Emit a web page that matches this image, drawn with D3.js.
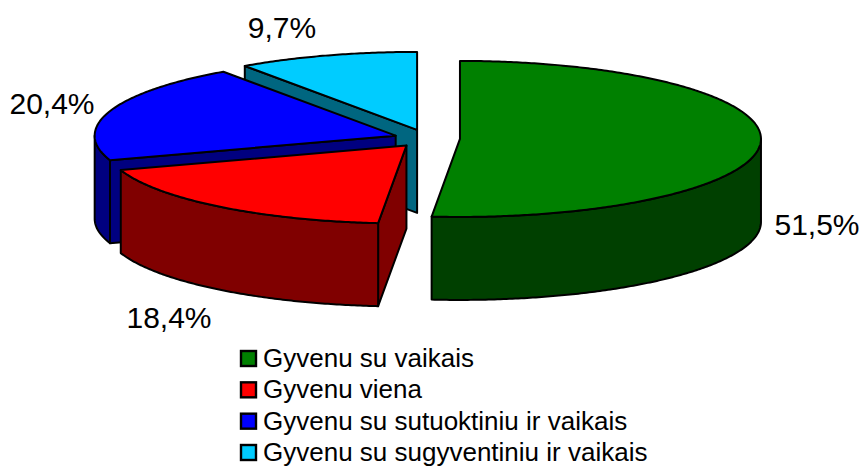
<!DOCTYPE html>
<html><head><meta charset="utf-8">
<script src="https://cdn.jsdelivr.net/npm/d3@7/dist/d3.min.js"></script>
<style>html,body{margin:0;padding:0;background:#fff}svg{display:block}text{font-family:"Liberation Sans",Arial,sans-serif;fill:#000}</style>
</head><body><svg id="c" width="861" height="466"></svg>
<script>
const categories = ["Gyvenu su vaikais","Gyvenu viena","Gyvenu su sutuoktiniu ir vaikais","Gyvenu su sugyventiniu ir vaikais"];
const values = [51.5,18.4,20.4,9.7];
const labels = ["51,5%","18,4%","20,4%","9,7%"];
const topColors = ["#008000","#ff0000","#0000ff","#00ccff"];
const sideColors = ["#004000","#800000","#000080","#006680"];
const labelPos = [[817,224.5],[169,318],[52,103.5],[282,28]];

const W=861,H=466, cx=427, cy=138.5, rx=301, ry=78, depth=83, explode=33, explodeY=9;
const svg=d3.select("#c");
const sx=d3.scaleLinear().domain([-1,1]).range([-rx,rx]);
const sy=d3.scaleLinear().domain([-1,1]).range([-ry,ry]);
const line=d3.line();
const pie=d3.pie().sort(null).startAngle(0).endAngle(2*Math.PI).value(d=>d);
const arcs=pie(values);
const pt=(a)=>[sx(Math.sin(a)),sy(-Math.cos(a))];
function arcPts(a0,a1,ox,oy,dz){
  const n=Math.max(2,Math.ceil((a1-a0)/0.01));
  return d3.range(n+1).map(i=>{const a=a0+(a1-a0)*i/n,p=pt(a);return [ox+p[0],oy+p[1]+dz];});
}
const order=[3,2,1,0];
order.forEach(i=>{
  const d=arcs[i],mid=(d.startAngle+d.endAngle)/2;
  const ox=cx+explode*Math.sin(mid), oy=cy-explodeY*Math.cos(mid);
  const g=svg.append("g");
  const style=(s,f)=>s.attr("fill",f).attr("stroke","#000").attr("stroke-width",2).attr("stroke-linejoin","round");
  // start face
  if(Math.sin(d.startAngle)<-1e-6){
    const p=pt(d.startAngle);
    style(g.append("path").attr("d",line([[ox,oy],[ox+p[0],oy+p[1]],[ox+p[0],oy+p[1]+depth],[ox,oy+depth]])+"Z"),sideColors[i]);
  }
  // outer wall (front half of the rim)
  const w0=Math.max(d.startAngle,Math.PI/2), w1=Math.min(d.endAngle,3*Math.PI/2);
  if(w1>w0){
    const upper=arcPts(w0,w1,ox,oy,0), lower=arcPts(w0,w1,ox,oy,depth).reverse();
    style(g.append("path").attr("d",line(upper.concat(lower))+"Z"),sideColors[i]);
  }
  // top
  style(g.append("path").attr("d",line([[ox,oy]].concat(arcPts(d.startAngle,d.endAngle,ox,oy,0)))+"Z"),topColors[i]);
});
labels.forEach((t,i)=>{
  svg.append("text").attr("x",labelPos[i][0]).attr("y",labelPos[i][1]+10).attr("text-anchor","middle").attr("font-size",30).text(t);
});
const ly=d3.scalePoint().domain(categories).range([359,453]);
categories.forEach((c,i)=>{
  const y=ly(c);
  svg.append("rect").attr("x",241).attr("y",y-8).attr("width",15).attr("height",15).attr("fill",topColors[i]).attr("stroke","#000").attr("stroke-width",2.4);
  svg.append("text").attr("x",263).attr("y",y+8).attr("font-size",26).text(c);
});
</script></body></html>
